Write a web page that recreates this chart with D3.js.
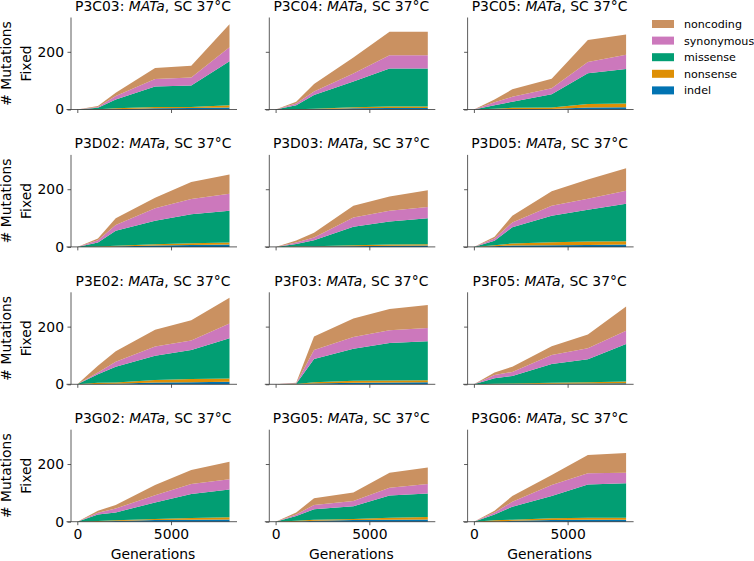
<!DOCTYPE html>
<html>
<head>
<meta charset="utf-8">
<script src="https://cdn.jsdelivr.net/npm/d3@7"></script>
<style>
  body { margin: 0; background: #fff; }
  svg { font-family: "DejaVu Sans", sans-serif; }
</style>
</head>
<body>
<svg id="chart" width="754" height="561"></svg>
<script>
// Data
const generations = [0, 1100, 2050, 4150, 6080, 8120];
const populations = ['P3C03', 'P3C04', 'P3C05',
                     'P3D02', 'P3D03', 'P3D05',
                     'P3E02', 'P3F03', 'P3F05',
                     'P3G02', 'P3G05', 'P3G06'];
const categories = ['indel', 'nonsense', 'missense', 'synonymous', 'noncoding'];
const colors = ['#0173b2', '#de8f05', '#029e73', '#cc78bc', '#ca9161'];
const yTicks = [0, 200];
const xTicks = [0, 5000];

// mutations fixed per category, one row per population (same order as populations)
const indel = [
  [0, 0, 1, 4, 5, 7], [0, 0, 1, 4, 5, 5], [0, 1, 2, 2, 7, 8],
  [0, 0, 1, 5, 7, 8], [0, 0, 1, 2, 4, 5], [0, 2, 5, 6, 7, 8],
  [0, 1, 2, 6, 7, 9], [0, 0, 3, 5, 6, 7], [0, 0, 1, 2, 3, 4],
  [0, 0, 2, 6, 7, 8], [0, 0, 3, 6, 7, 8], [0, 0, 3, 6, 7, 7]
];
const nonsense = [
  [0, 1, 3, 5, 4, 8], [0, 1, 2, 4, 5, 5], [0, 2, 4, 5, 12, 13],
  [0, 1, 3, 4, 6, 7], [0, 1, 1, 4, 4, 4], [0, 4, 7, 10, 12, 12],
  [0, 4, 4, 9, 11, 11], [0, 1, 4, 7, 7, 7], [0, 2, 2, 3, 4, 6],
  [0, 2, 3, 3, 6, 7], [0, 3, 4, 3, 7, 8], [0, 5, 4, 6, 7, 7]
];
const missense = [
  [0, 5, 31, 71, 74, 152], [0, 14, 47, 89, 132, 132], [0, 12, 21, 46, 107, 119],
  [0, 14, 52, 82, 100, 110], [0, 9, 21, 64, 80, 90], [0, 15, 56, 92, 110, 130],
  [0, 30, 55, 84, 101, 140], [0, 1, 81, 111, 130, 135], [0, 19, 26, 65, 80, 130],
  [0, 23, 27, 58, 83, 97], [0, 17, 36, 45, 77, 82], [0, 20, 45, 77, 115, 119]
];
const synonymous = [
  [0, 3, 12, 26, 28, 49], [0, 6, 12, 28, 46, 46], [0, 10, 17, 21, 39, 50],
  [0, 8, 20, 43, 53, 59], [0, 5, 10, 32, 37, 39], [0, 8, 17, 35, 38, 45],
  [0, 6, 17, 32, 33, 51], [0, 2, 31, 41, 44, 46], [0, 11, 14, 32, 38, 46],
  [0, 6, 14, 25, 35, 35], [0, 5, 15, 18, 27, 33], [0, 7, 17, 38, 39, 37]
];
const noncoding = [
  [0, 3, 11, 38, 41, 80], [0, 6, 26, 55, 82, 82], [0, 10, 26, 33, 76, 70],
  [0, 6, 23, 36, 59, 67], [0, 7, 16, 41, 50, 58], [0, 6, 23, 50, 67, 78],
  [0, 23, 37, 58, 70, 89], [0, 1, 47, 64, 74, 80], [0, 9, 18, 30, 48, 84],
  [0, 7, 12, 35, 48, 61], [0, 7, 23, 29, 52, 57], [0, 6, 20, 35, 63, 68]
];
const series = { indel, nonsense, missense, synonymous, noncoding };

// layout (pixels)
const left0 = 71, colStep = 198.3, panelW = 166;
const top0 = 17.5, rowStep = 137.4, panelH = 92;
const fontSize = 13.9;
const ink = '#333';

const svg = d3.select('#chart');

const x = d3.scaleLinear().domain([-336, 8520]).range([0, panelW]);
const y = d3.scaleLinear().domain([0, 319]).range([panelH, 0]);

const stack = d3.stack().keys(categories);
const area = d3.area()
  .x(d => x(d.data.gen))
  .y0(d => y(d[0]))
  .y1(d => y(d[1]));

populations.forEach((pop, i) => {
  const col = i % 3, row = Math.floor(i / 3);
  const g = svg.append('g')
    .attr('transform', `translate(${left0 + col * colStep},${top0 + row * rowStep})`);

  const rows = generations.map((gen, t) => {
    const r = { gen };
    categories.forEach(c => { r[c] = series[c][i][t]; });
    return r;
  });

  g.selectAll('path.layer')
    .data(stack(rows))
    .enter()
    .append('path')
      .attr('class', 'layer')
      .attr('d', area)
      .attr('fill', (d, k) => colors[k]);

  // axes
  const yAxis = g.append('g')
    .call(d3.axisLeft(y).tickValues(yTicks).tickSize(3.5).tickPadding(3.5)
      .tickFormat(col === 0 ? d3.format('d') : ''));
  const xAxis = g.append('g')
    .attr('transform', `translate(0,${panelH})`)
    .call(d3.axisBottom(x).tickValues(xTicks).tickSize(3.5).tickPadding(3.5)
      .tickFormat(row === 3 ? d3.format('d') : ''));

  [yAxis, xAxis].forEach(a => {
    a.select('.domain').remove();
    a.selectAll('line').attr('stroke', ink).attr('stroke-width', 0.8);
    a.selectAll('text')
      .attr('fill', '#000')
      .style('font-family', '"DejaVu Sans", sans-serif')
      .style('font-size', fontSize + 'px');
  });
  // spines
  g.append('line')
    .attr('x1', 0).attr('x2', 0).attr('y1', 0).attr('y2', panelH)
    .attr('stroke', ink).attr('stroke-width', 0.8);
  g.append('line')
    .attr('x1', -4.5).attr('x2', panelW).attr('y1', panelH).attr('y2', panelH)
    .attr('stroke', ink).attr('stroke-width', 0.8);

  // title
  const title = g.append('text')
    .attr('x', panelW / 2 - 1)
    .attr('y', panelH - 98.5)
    .attr('text-anchor', 'middle')
    .style('font-size', fontSize + 'px');
  title.append('tspan').text(pop + ': ');
  title.append('tspan').attr('font-style', 'italic').text('MATa');
  title.append('tspan').text(', SC 37°C');

  if (col === 0) {
    const yl = g.append('text')
      .attr('transform', `translate(-60,${panelH / 2}) rotate(-90)`)
      .attr('text-anchor', 'middle')
      .style('font-size', fontSize + 'px');
    yl.append('tspan').attr('x', 0).attr('y', 0).text('# Mutations');
    yl.append('tspan').attr('x', 0).attr('y', 0).attr('dy', 20).text('Fixed');
  }
  if (row === 3) {
    g.append('text')
      .attr('x', panelW / 2 - 1)
      .attr('y', panelH + 37.5)
      .attr('text-anchor', 'middle')
      .style('font-size', fontSize + 'px')
      .text('Generations');
  }
});

// legend
const legendItems = categories.slice().reverse();
const legend = svg.append('g').attr('transform', 'translate(652,24)');
legend.selectAll('g')
  .data(legendItems)
  .enter()
  .append('g')
    .attr('transform', (d, k) => `translate(0,${k * 16.6})`)
    .each(function (d) {
      const item = d3.select(this);
      item.append('rect')
        .attr('x', 0).attr('y', -4).attr('width', 22).attr('height', 8)
        .attr('fill', colors[categories.indexOf(d)]);
      item.append('text')
        .attr('x', 32).attr('y', 4)
        .style('font-size', '11.1px')
        .text(d);
    });
</script>
</body>
</html>
